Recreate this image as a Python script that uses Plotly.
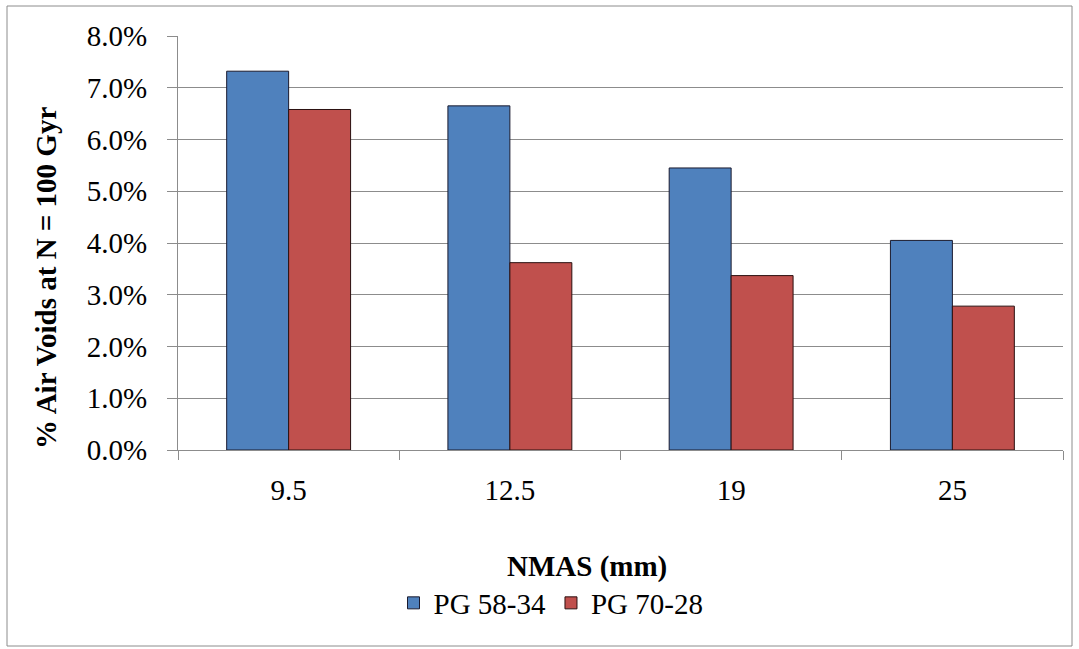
import plotly.graph_objects as go

categories = ["9.5", "12.5", "19", "25"]
pg_58_34 = [0.0732, 0.0665, 0.0545, 0.0405]
pg_70_28 = [0.0658, 0.0362, 0.0337, 0.0278]
series_names = ["PG 58-34", "PG 70-28"]

L, R, T, B = 178, 16, 36, 199
W, H = 1079, 649
pw = W - L - R
ph = H - T - B

def px_x(p):
    return (p - L) / pw

def px_y(p):
    return (H - B - p) / ph

font = "Liberation Serif, Times New Roman, serif"
FS = 29

fig = go.Figure()
fig.add_trace(go.Bar(x=categories, y=pg_58_34, name=series_names[0],
                     marker=dict(color="#4F81BD", line=dict(color="#1a1a2e", width=1))))
fig.add_trace(go.Bar(x=categories, y=pg_70_28, name=series_names[1],
                     marker=dict(color="#C0504D", line=dict(color="#2a1010", width=1))))

fig.update_layout(
    width=W, height=H,
    margin=dict(l=L, r=R, t=T, b=B),
    paper_bgcolor="white", plot_bgcolor="white",
    barmode="group", bargap=0.44, bargroupgap=0,
    font=dict(family=font, size=FS, color="#000000"),
    showlegend=True,
    legend=dict(orientation="h", x=px_x(551), y=px_y(603), xanchor="center", yanchor="middle",
                font=dict(size=FS), itemwidth=30, traceorder="normal"),
    xaxis=dict(type="category", showline=True, linecolor="#8c8c8c", linewidth=1,
               ticks="outside", tickson="boundaries", ticklen=9, tickcolor="#8c8c8c",
               showgrid=False, tickfont=dict(size=FS), ticklabelstandoff=14),
    yaxis=dict(range=[0, 0.08], dtick=0.01, tickformat=".1%", showline=True,
               linecolor="#8c8c8c", linewidth=1, ticks="outside", ticklen=10,
               tickcolor="#8c8c8c", showgrid=True, gridcolor="#8c8c8c", gridwidth=1,
               zeroline=False, tickfont=dict(size=FS), ticklabelstandoff=14),
    annotations=[
        dict(text="<b>% Air Voids at N = 100 Gyr</b>", xref="paper", yref="paper",
             x=px_x(46), y=px_y(278), textangle=-90, showarrow=False,
             xanchor="center", yanchor="middle", font=dict(size=FS)),
        dict(text="<b>NMAS (mm)</b>", xref="paper", yref="paper",
             x=px_x(587), y=px_y(566), showarrow=False,
             xanchor="center", yanchor="middle", font=dict(size=FS)),
    ],
    shapes=[
        dict(type="rect", xref="paper", yref="paper",
             x0=px_x(7), x1=px_x(1072), y0=px_y(646), y1=px_y(6),
             line=dict(color="#8c8c8c", width=1), fillcolor="rgba(0,0,0,0)", layer="below"),
    ],
)

fig.write_html("out.html")
